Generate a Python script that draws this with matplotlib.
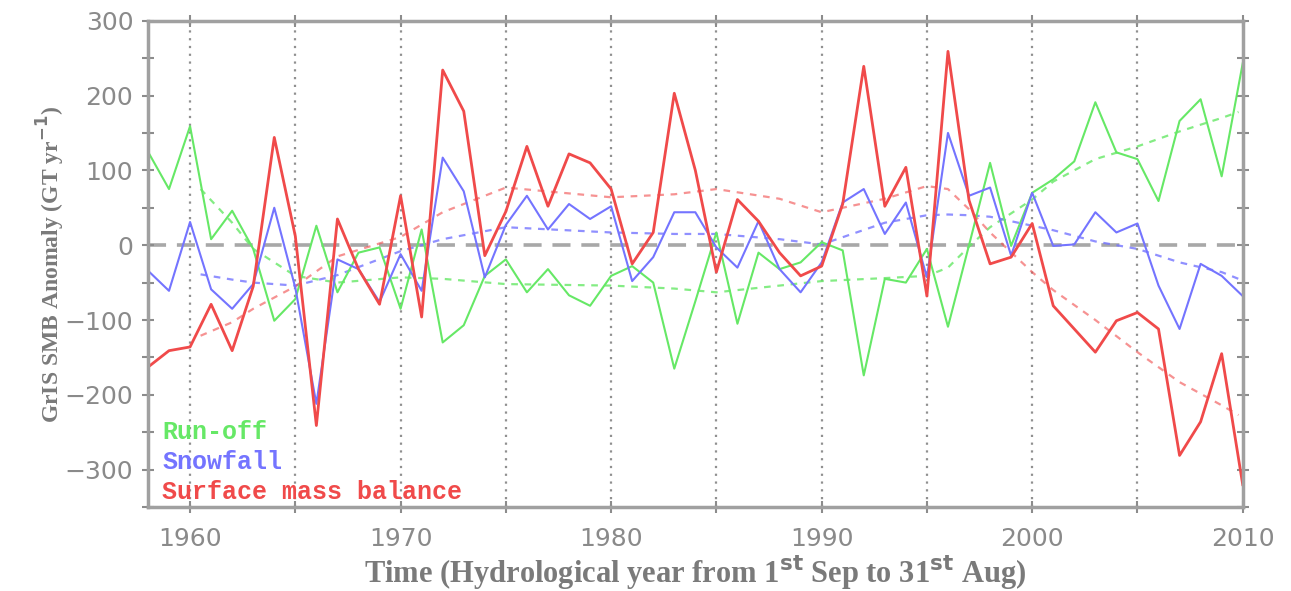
import matplotlib
matplotlib.use("Agg")
import matplotlib.pyplot as plt
import numpy as np

years = list(range(1958, 2011))

runoff = [125, 75, 159, 8, 46, -5, -101, -72, 26, -63, -10, -3, -85, 21,
          -130, -107, -41, -19, -63, -32, -67, -81, -41, -28, -50, -165, -75,
          17, -105, -10, -32, -23, 4, -7, -174, -45, -50, -5, -109, 0, 110,
          -1, 70, 88, 112, 191, 124, 115, 59, 166, 195, 92, 243]

snowfall = [-34, -61, 31, -59, -85, -52, 50, -57, -212, -19, -32, -76, -12, -61,
            117, 72, -43, 27, 66, 21, 55, 35, 52, -48, -16, 44, 44,
            -3, -30, 32, -32, -63, -23, 57, 75, 15, 57, -43, 150, 66, 77,
            -14, 70, -1, 1, 44, 17, 29, -54, -112, -25, -41, -68]

smb = [-163, -141, -136, -79, -141, -55, 144, 12, -241, 35, -32, -79, 66, -96,
       234, 179, -14, 45, 132, 52, 122, 110, 75, -25, 17, 203, 100,
       -36, 61, 32, -10, -41, -28, 55, 239, 52, 104, -68, 259, 60, -25,
       -16, 29, -81, -112, -143, -101, -90, -112, -281, -236, -145, -320]

# smoothed curves
trend_years = [1960.5, 1962, 1963, 1965, 1967, 1970, 1972, 1975, 1980, 1983, 1985,
               1988, 1990, 1993, 1995, 1996, 1997, 1998, 2000, 2001, 2003,
               2005, 2007, 2009, 2009.8]
runoff_trend = [75, 30, -5, -41, -50, -43, -45, -52, -54, -58, -63,
                -54, -48, -44, -41, -30, -2, 24, 61, 85, 115,
                132, 152, 170, 178]
snow_trend = [-39, -46, -50, -54, -40, -8, 8, 24, 17, 15, 15,
              8, 1, 30, 40, 41, 40, 38, 26, 20, 5,
              -5, -23, -36, -45]
smb_trend = [-121, -103, -85, -55, -15, 11, 44, 77, 64, 68, 75,
             62, 44, 62, 79, 75, 48, 17, -36, -60, -100,
             -143, -183, -214, -227]

yticks = [-300, -200, -100, 0, 100, 200, 300]
xticks = [1960, 1970, 1980, 1990, 2000, 2010]
vlines = [1960, 1965, 1970, 1975, 1980, 1985, 1990, 1995, 2000, 2005]

green = "#66e866"
blue = "#7474ff"
red = "#f04a4a"
grey = "#8c8c8c"

fig = plt.figure(figsize=(12.91, 5.91), dpi=100)
ax = fig.add_axes([0.1146, 0.142, 0.848, 0.823])

for v in vlines:
    ax.axvline(v, color="#909090", linestyle=(0, (1, 2.5)), linewidth=1.6, zorder=1)
ax.axhline(0, color="#a8a8a8", linestyle=(0, (5, 3)), linewidth=2.6, zorder=1)

ax.plot(trend_years, runoff_trend, color=green, linestyle=(0, (3, 3)), linewidth=1.6, alpha=0.8)
ax.plot(trend_years, snow_trend, color=blue, linestyle=(0, (3, 3)), linewidth=1.6, alpha=0.8)
ax.plot(trend_years, smb_trend, color=red, linestyle=(0, (3, 3)), linewidth=1.6, alpha=0.6)

ax.plot(years, runoff, color=green, linewidth=1.5)
ax.plot(years, snowfall, color=blue, linewidth=1.5)
ax.plot(years, smb, color=red, linewidth=2.0)

ax.set_xlim(1958, 2010)
ax.set_ylim(-350, 300)
ax.set_xticks(xticks)
ax.set_xticks(list(range(1965, 2010, 10)), minor=True)
ax.set_yticks(yticks)
ax.set_yticks(list(range(-350, 301, 50)), minor=True)
ax.tick_params(which="both", direction="inout", length=9, width=1.5, color=grey,
               top=True, right=True, labelsize=18, labelcolor="#8a8a8a")
ax.tick_params(axis="x", pad=10)
ax.tick_params(axis="y", pad=6)
ax.set_yticklabels(["\u2212300", "\u2212200", "\u2212100", "0", "100", "200", "300"])
for s in ax.spines.values():
    s.set_color("#a0a0a0")
    s.set_linewidth(2.5)

ax.set_ylabel(r"GrIS SMB Anomaly (GT yr$^{\mathbf{-1}}$)", family="Liberation Serif",
              fontweight="bold", fontsize=17, color="#7a7a7a", labelpad=-2)
ax.set_xlabel(r"Time (Hydrological year from 1$^{\mathbf{st}}$ Sep to 31$^{\mathbf{st}}$ Aug)",
              family="Liberation Serif", fontweight="bold", fontsize=22,
              color="#7a7a7a", labelpad=2)

legend_items = [("Run-off", green), ("Snowfall", blue), ("Surface mass balance", red)]
for i, (txt, c) in enumerate(legend_items):
    ax.text(0.013, 0.154 - i * 0.062, txt, transform=ax.transAxes, color=c,
            family="Liberation Mono", fontweight="bold", fontsize=18, va="center")

fig.savefig("out.png", dpi=100)
